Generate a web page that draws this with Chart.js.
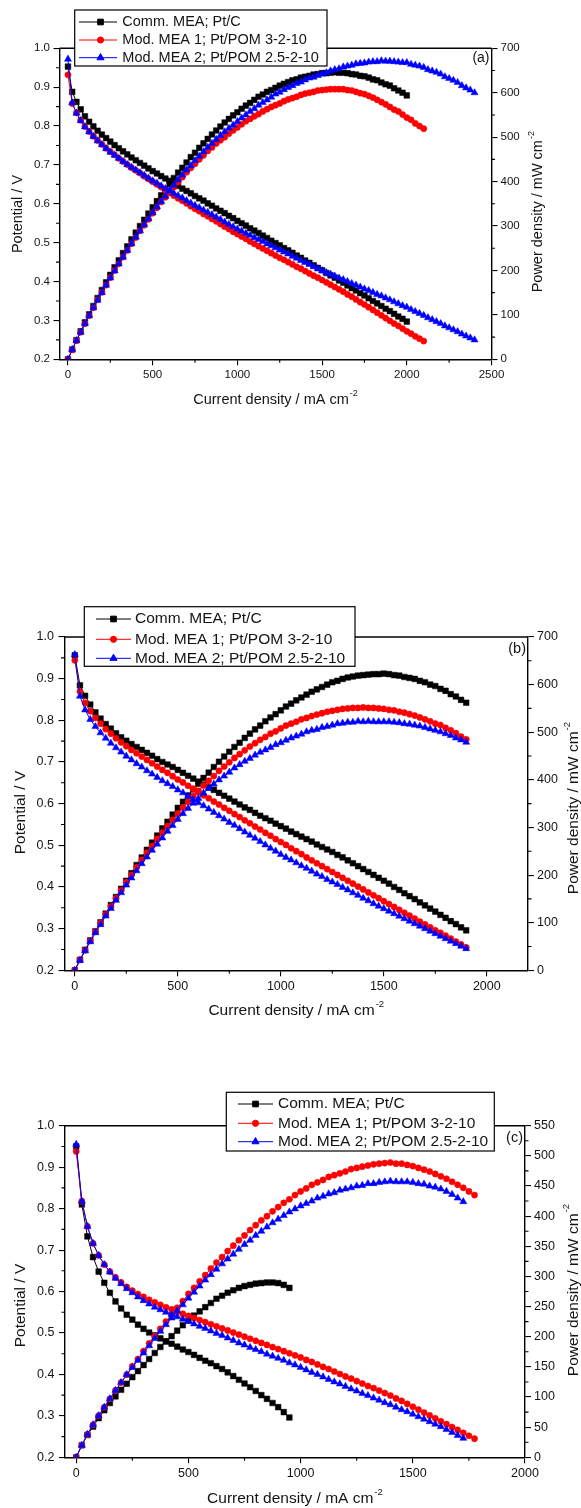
<!DOCTYPE html>
<html>
<head>
<meta charset="utf-8">
<title>Polarization and power density curves</title>
<script src="https://cdn.jsdelivr.net/npm/chart.js@4.4.1/dist/chart.umd.min.js"></script>
<style>
  html, body { margin: 0; padding: 0; background: #ffffff; }
  body { position: relative; width: 581px; height: 1508px; overflow: hidden; }
  canvas { position: absolute; left: 0; }
</style>
</head>
<body>
<canvas id="chartA" width="581" height="420" style="top:0px"></canvas>
<canvas id="chartB" width="581" height="450" style="top:580px"></canvas>
<canvas id="chartC" width="581" height="428" style="top:1080px"></canvas>
<script>
// ---- data -------------------------------------------------------------
// current density grid, mA cm-2 (shared by all three panels)
const current = [0,25,50,75,100,125,150,175,200,225,
  250,275,300,325,350,375,400,425,450,475,
  500,525,550,575,600,625,650,675,700,725,
  750,775,800,825,850,875,900,925,950,975,
  1000,1025,1050,1075,1100,1125,1150,1175,1200,1225,
  1250,1275,1300,1325,1350,1375,1400,1425,1450,1475,
  1500,1525,1550,1575,1600,1625,1650,1675,1700,1725,
  1750,1775,1800,1825,1850,1875,1900,1925,1950,1975,
  2000,2025,2050,2075,2100,2125,2150,2175,2200,2225,
  2250,2275,2300,2325,2350,2375,2400];

const seriesNames = ['Comm. MEA; Pt/C', 'Mod. MEA 1; Pt/POM 3-2-10', 'Mod. MEA 2; Pt/POM 2.5-2-10'];

// (a) cell potential, V
const potA_comm = [.953,.888,.862,.843,.825,.811,.799,.788,.778,.769,
  .760,.751,.743,.735,.727,.719,.712,.705,.698,.691,
  .684,.678,.671,.665,.659,.652,.646,.639,.633,.627,
  .620,.614,.608,.601,.595,.588,.582,.576,.569,.563,
  .556,.550,.544,.537,.531,.525,.518,.512,.505,.499,
  .493,.486,.480,.474,.467,.461,.454,.448,.442,.435,
  .429,.422,.416,.410,.403,.397,.390,.383,.377,.370,
  .364,.357,.350,.344,.337,.330,.324,.317,.310,.304,
  .297];
const potA_mod1 = [.932,.858,.834,.815,.799,.786,.774,.763,.753,.743,
  .734,.726,.717,.709,.701,.693,.686,.679,.671,.664,
  .657,.650,.643,.635,.628,.621,.614,.608,.601,.594,
  .587,.581,.574,.568,.561,.555,.548,.541,.535,.528,
  .522,.516,.510,.503,.497,.491,.485,.479,.473,.467,
  .461,.456,.450,.444,.438,.433,.427,.421,.415,.410,
  .404,.398,.392,.386,.380,.374,.367,.361,.354,.347,
  .341,.334,.327,.320,.313,.306,.299,.292,.286,.279,
  .272,.266,.259,.253,.247];
const potA_mod2 = [.972,.860,.833,.814,.798,.785,.773,.762,.752,.742,
  .733,.725,.717,.709,.701,.694,.687,.680,.673,.666,
  .659,.653,.646,.639,.633,.627,.621,.615,.608,.602,
  .596,.590,.584,.578,.572,.566,.560,.553,.547,.541,
  .535,.530,.524,.519,.513,.508,.503,.497,.492,.487,
  .481,.476,.471,.465,.460,.454,.449,.444,.438,.433,
  .428,.423,.419,.414,.409,.405,.400,.395,.391,.386,
  .381,.377,.372,.367,.363,.358,.353,.348,.343,.338,
  .334,.328,.323,.318,.313,.307,.302,.297,.292,.286,
  .281,.276,.271,.265,.260,.255,.250];
// (a) power density, mW cm-2
const powA_comm = [0,22,43,63,83,101,120,138,156,173,
  190,207,223,239,254,270,285,300,314,328,
  342,356,369,382,395,408,420,431,443,455,
  465,476,486,496,506,515,524,533,541,549,
  556,564,571,577,584,591,596,602,606,611,
  616,620,624,628,630,634,636,638,641,642,
  644,644,645,646,645,645,644,642,641,638,
  637,634,630,628,623,619,616,610,605,600,
  594];
const powA_mod1 = [0,21,42,61,80,98,116,134,151,167,
  184,200,215,230,245,260,274,289,302,315,
  329,341,354,365,377,388,399,410,421,431,
  440,450,459,469,477,486,493,500,508,515,
  522,529,536,541,547,552,558,563,568,572,
  576,581,585,588,591,595,598,600,602,605,
  606,607,608,608,608,608,606,605,602,599,
  597,593,589,584,579,574,568,562,558,551,
  544,539,531,525,519];
const powA_mod2 = [0,22,42,61,80,98,116,133,150,167,
  183,199,215,230,245,260,275,289,303,316,
  330,343,355,367,380,392,404,415,426,436,
  447,457,467,477,486,495,504,512,520,527,
  535,543,550,558,564,572,578,584,590,597,
  601,607,612,616,621,624,629,633,635,639,
  642,645,649,652,654,658,660,662,665,666,
  667,669,670,670,672,671,671,670,669,668,
  668,664,662,660,657,652,649,646,642,636,
  632,628,623,616,611,606,600];

// (b) cell potential, V
const potB_comm = [.956,.884,.859,.838,.819,.804,.791,.780,.769,.759,
  .751,.743,.736,.729,.722,.715,.707,.700,.694,.688,
  .681,.674,.667,.660,.653,.646,.639,.633,.626,.619,
  .612,.605,.598,.591,.585,.578,.571,.565,.559,.552,
  .546,.540,.533,.527,.521,.515,.509,.502,.496,.490,
  .484,.477,.471,.464,.457,.450,.443,.436,.429,.422,
  .415,.408,.400,.393,.385,.378,.371,.363,.356,.348,
  .341,.333,.326,.318,.311,.303,.296];
const potB_mod1 = [.944,.869,.842,.822,.806,.792,.779,.768,.757,.747,
  .738,.729,.721,.713,.705,.697,.689,.681,.674,.666,
  .658,.651,.643,.636,.628,.620,.613,.605,.598,.590,
  .583,.575,.568,.560,.553,.545,.538,.530,.523,.515,
  .508,.501,.493,.486,.479,.471,.464,.457,.450,.443,
  .436,.429,.422,.415,.408,.401,.394,.387,.380,.373,
  .366,.359,.352,.345,.338,.331,.324,.317,.310,.303,
  .296,.290,.283,.276,.269,.262,.255];
const potB_mod2 = [.958,.858,.825,.802,.785,.770,.757,.745,.734,.724,
  .714,.705,.696,.688,.679,.671,.663,.655,.648,.641,
  .633,.626,.618,.610,.602,.595,.587,.579,.571,.563,
  .555,.548,.540,.532,.524,.517,.509,.501,.493,.486,
  .478,.471,.465,.458,.451,.445,.438,.431,.425,.418,
  .412,.406,.399,.393,.386,.380,.373,.367,.360,.354,
  .348,.342,.336,.330,.324,.318,.312,.306,.300,.294,
  .288,.282,.276,.270,.264,.258,.252];
// (b) power density, mW cm-2
const powB_comm = [0,22,43,63,82,101,119,137,154,171,
  188,204,221,237,253,268,283,298,312,327,
  341,354,367,380,392,404,415,427,438,449,
  459,469,478,488,497,506,514,523,531,538,
  546,554,560,567,573,579,585,590,595,600,
  605,608,612,615,617,619,620,621,622,622,
  623,622,620,619,616,614,612,608,605,600,
  597,591,587,580,575,568,562];
const powB_mod1 = [0,22,42,62,81,99,117,134,151,168,
  185,200,216,232,247,261,276,289,303,316,
  329,342,354,366,377,388,398,408,419,428,
  437,446,454,462,470,477,484,490,497,502,
  508,514,518,522,527,530,534,537,540,543,
  545,547,549,550,551,551,552,551,551,550,
  549,547,546,543,541,538,535,531,527,523,
  518,515,509,504,498,491,485];
const powB_mod2 = [0,21,41,60,79,96,114,130,147,163,
  179,194,209,224,238,252,265,278,292,304,
  317,329,340,351,361,372,382,391,400,408,
  416,425,432,439,445,452,458,463,468,474,
  478,483,488,492,496,501,504,506,510,512,
  515,518,519,521,521,523,522,523,522,522,
  522,522,521,520,518,517,515,513,510,507,
  504,501,497,493,488,484,479];

// (c) cell potential, V
const potC_comm = [.950,.810,.733,.683,.648,.621,.597,.576,.559,.544,
  .532,.520,.510,.501,.494,.487,.480,.474,.467,.460,
  .454,.447,.440,.433,.427,.420,.413,.405,.396,.387,
  .378,.369,.360,.350,.341,.331,.321,.309,.296];
const potC_mod1 = [.938,.818,.757,.716,.687,.665,.648,.634,.622,.611,
  .602,.594,.587,.580,.574,.568,.562,.557,.551,.546,
  .541,.536,.531,.526,.521,.516,.511,.506,.501,.496,
  .491,.486,.481,.476,.471,.466,.461,.456,.451,.446,
  .441,.435,.430,.424,.418,.413,.407,.401,.395,.390,
  .384,.378,.372,.367,.361,.355,.349,.342,.336,.329,
  .322,.315,.308,.301,.294,.287,.280,.273,.266,.259,
  .252,.245];
const potC_mod2 = [.955,.818,.757,.716,.687,.665,.647,.632,.619,.607,
  .597,.587,.578,.570,.562,.556,.550,.544,.539,.533,
  .528,.522,.516,.511,.505,.499,.494,.488,.482,.476,
  .471,.465,.460,.455,.449,.444,.439,.434,.428,.423,
  .417,.411,.405,.400,.394,.388,.382,.377,.371,.365,
  .360,.354,.349,.343,.338,.332,.327,.321,.315,.310,
  .304,.298,.292,.286,.280,.274,.267,.260,.253,.246];
// (c) power density, mW cm-2
const powC_comm = [0,20,37,51,65,78,90,101,112,122,
  133,143,153,163,173,183,192,201,210,219,
  227,235,242,249,256,263,268,273,277,281,
  284,286,288,289,290,290,289,286,281];
const powC_mod1 = [0,20,38,54,69,83,97,111,124,137,
  151,163,176,189,201,213,225,237,248,259,
  271,281,292,302,313,323,332,342,351,360,
  368,377,385,393,400,408,415,422,428,435,
  441,446,452,456,460,465,468,471,474,478,
  480,482,484,486,487,488,489,487,487,485,
  483,480,477,474,470,466,462,457,452,447,
  441,435];
const powC_mod2 = [0,20,38,54,69,83,97,111,124,137,
  149,161,173,185,197,209,220,231,243,253,
  264,274,284,294,303,312,321,329,337,345,
  353,360,368,375,382,389,395,401,407,412,
  417,421,425,430,433,437,439,443,445,447,
  450,451,454,454,456,457,458,457,457,457,
  456,454,453,450,448,445,441,436,430,424];

// tick values
const potTicks = [0.2, 0.3, 0.4, 0.5, 0.6, 0.7, 0.8, 0.9, 1.0];
const xTicksA = [0, 500, 1000, 1500, 2000, 2500];
const xTicksBC = [0, 500, 1000, 1500, 2000];
const powTicksAB = [0, 100, 200, 300, 400, 500, 600, 700];
const powTicksC = [0, 50, 100, 150, 200, 250, 300, 350, 400, 450, 500, 550];

// ---- styling ------------------------------------------------------------
const FONT = "'Liberation Sans', Arimo, Arial, Helvetica, sans-serif";
const INK = '#141414';
const W = 581;
const MAJOR_TICK = 6;
const MINOR_TICK = 3.5;

const seriesStyle = [
  { color: '#000000', pointStyle: 'rect', radius: 4.0, order: 2 },
  { color: '#ff0000', pointStyle: 'circle', radius: 3.1, order: 1 },
  { color: '#0000ff', pointStyle: 'triangle', radius: 4.1, order: 0 }
];

Chart.defaults.font.family = FONT;

function dataset(label, data, axisId, st) {
  return {
    label, data, yAxisID: axisId,
    borderColor: st.color, backgroundColor: st.color,
    pointBackgroundColor: st.color, pointBorderColor: st.color,
    pointStyle: st.pointStyle, pointRadius: st.radius, pointHoverRadius: st.radius,
    pointBorderWidth: 0.5, borderWidth: 1, tension: 0, fill: false, order: st.order
  };
}

function makeDatasets(pots, pows) {
  const sets = [];
  pots.forEach((d, i) => sets.push(dataset(seriesNames[i] + ' – potential', d, 'yV', seriesStyle[i])));
  pows.forEach((d, i) => sets.push(dataset(seriesNames[i] + ' – power', d, 'yP', seriesStyle[i])));
  return sets;
}

const midpoints = t => t.slice(1).map((v, i) => (v + t[i]) / 2);

function drawTitle(ctx, main, sup, cx, cy, size, rot) {
  ctx.save();
  ctx.translate(cx, cy);
  ctx.rotate(rot);
  const mainFont = size + 'px ' + FONT;
  const supFont = (size * 0.62).toFixed(1) + 'px ' + FONT;
  ctx.font = mainFont;
  const w1 = ctx.measureText(main).width;
  ctx.font = supFont;
  const w2 = sup ? ctx.measureText(sup).width + 1 : 0;
  const x0 = -(w1 + w2) / 2;
  ctx.textAlign = 'left';
  ctx.textBaseline = 'middle';
  ctx.fillStyle = INK;
  ctx.font = mainFont;
  ctx.fillText(main, x0, 0);
  if (sup) {
    ctx.font = supFont;
    ctx.fillText(sup, x0 + w1 + 1, -size * 0.45);
  }
  ctx.restore();
}

function drawLegend(ctx, lg, size) {
  ctx.save();
  ctx.fillStyle = '#ffffff';
  ctx.fillRect(lg.x, lg.y, lg.w, lg.h);
  ctx.strokeStyle = '#000000';
  ctx.lineWidth = 1.2;
  ctx.strokeRect(lg.x, lg.y, lg.w, lg.h);
  ctx.font = size + 'px ' + FONT;
  ctx.textAlign = 'left';
  ctx.textBaseline = 'middle';
  seriesNames.forEach((name, i) => {
    const st = seriesStyle[i];
    const y = lg.rows[i];
    ctx.strokeStyle = st.color;
    ctx.fillStyle = st.color;
    ctx.lineWidth = 1;
    ctx.beginPath();
    ctx.moveTo(lg.sx0, y);
    ctx.lineTo(lg.sx1, y);
    ctx.stroke();
    Chart.helpers.drawPoint(ctx, { pointStyle: st.pointStyle, radius: st.radius, rotation: 0, borderWidth: 0.5 }, lg.mx, y);
    ctx.fillStyle = INK;
    ctx.fillText(name, lg.tx, y);
  });
  ctx.restore();
}

function panelDecor(p) {
  return {
    id: 'panelDecor',
    afterDraw(chart) {
      const ctx = chart.ctx;
      const a = chart.chartArea;
      const sx = chart.scales.x, sv = chart.scales.yV, sp = chart.scales.yP;
      ctx.save();
      // top edge of the frame
      ctx.strokeStyle = '#000000';
      ctx.lineWidth = 1.4;
      ctx.beginPath();
      ctx.moveTo(a.left, a.top);
      ctx.lineTo(a.right, a.top);
      ctx.stroke();
      // minor ticks half-way between the labelled ones
      ctx.lineWidth = 1.1;
      ctx.beginPath();
      midpoints(p.xTicks).filter(v => v < sx.max).forEach(v => {
        const x = sx.getPixelForValue(v);
        ctx.moveTo(x, a.bottom); ctx.lineTo(x, a.bottom + MINOR_TICK);
      });
      midpoints(potTicks).forEach(v => {
        const y = sv.getPixelForValue(v);
        ctx.moveTo(a.left, y); ctx.lineTo(a.left - MINOR_TICK, y);
      });
      midpoints(p.powTicks).forEach(v => {
        const y = sp.getPixelForValue(v);
        ctx.moveTo(a.right, y); ctx.lineTo(a.right + MINOR_TICK, y);
      });
      ctx.stroke();
      // axis titles
      drawTitle(ctx, 'Current density / mA cm', '-2', p.xTitle.x, p.xTitle.y, p.titleSize, 0);
      drawTitle(ctx, 'Potential / V', '', p.yTitle.x, p.yTitle.y, p.titleSize, -Math.PI / 2);
      drawTitle(ctx, 'Power density / mW cm', '-2', p.pTitle.x, p.pTitle.y, p.titleSize, -Math.PI / 2);
      // panel letter
      ctx.fillStyle = INK;
      ctx.font = p.tagSize + 'px ' + FONT;
      ctx.textAlign = 'right';
      ctx.textBaseline = 'middle';
      ctx.fillText(p.tag.text, p.tag.x, p.tag.y);
      ctx.restore();
      drawLegend(ctx, p.legend, p.legendSize);
    }
  };
}

function gridOpts() {
  return { display: true, drawOnChartArea: false, drawTicks: true, tickLength: MAJOR_TICK,
           tickWidth: 1.1, tickColor: '#000000', color: '#000000', lineWidth: 1.1 };
}
function borderOpts() {
  return { display: true, color: '#000000', width: 1.4 };
}

function buildPanel(p) {
  const tickFont = { family: FONT, size: p.tickSize };
  return new Chart(document.getElementById(p.canvas), {
    type: 'line',
    data: { labels: current, datasets: makeDatasets(p.pot, p.pow) },
    options: {
      responsive: false,
      maintainAspectRatio: false,
      animation: false,
      devicePixelRatio: 1,
      events: [],
      layout: { padding: { top: p.area.top, right: 0, bottom: 0, left: 0 } },
      plugins: { legend: { display: false }, tooltip: { enabled: false } },
      scales: {
        x: {
          type: 'linear', position: 'bottom', min: p.xMin, max: p.xMax,
          grid: gridOpts(), border: borderOpts(),
          ticks: { font: tickFont, color: INK, padding: p.padX, autoSkip: false,
                   maxRotation: 0, minRotation: 0, callback: v => String(v) },
          afterBuildTicks: s => { s.ticks = p.xTicks.map(value => ({ value })); },
          afterFit: s => { s.height = p.H - p.area.bottom; }
        },
        yV: {
          type: 'linear', position: 'left',
          min: potTicks[0], max: potTicks[potTicks.length - 1],
          grid: gridOpts(), border: borderOpts(),
          ticks: { font: tickFont, color: INK, padding: p.padL, autoSkip: false,
                   callback: v => Number(v).toFixed(1) },
          afterBuildTicks: s => { s.ticks = potTicks.map(value => ({ value })); },
          afterFit: s => { s.width = p.area.left; }
        },
        yP: {
          type: 'linear', position: 'right',
          min: p.powTicks[0], max: p.powTicks[p.powTicks.length - 1],
          grid: gridOpts(), border: borderOpts(),
          ticks: { font: tickFont, color: INK, padding: p.padR, autoSkip: false,
                   callback: v => String(v) },
          afterBuildTicks: s => { s.ticks = p.powTicks.map(value => ({ value })); },
          afterFit: s => { s.width = W - p.area.right; }
        }
      }
    },
    plugins: [panelDecor(p)]
  });
}

// ---- panels -------------------------------------------------------------
buildPanel({
  canvas: 'chartA', H: 420,
  area: { left: 59.5, right: 491.5, top: 48.3, bottom: 359.3 },
  xMin: -50, xMax: 2500, xTicks: xTicksA, powTicks: powTicksAB,
  pot: [potA_comm, potA_mod1, potA_mod2], pow: [powA_comm, powA_mod1, powA_mod2],
  tickSize: 11.5, titleSize: 14.5, legendSize: 14.5, tagSize: 14,
  padX: 3, padL: 3.5, padR: 3,
  legend: { x: 74.7, y: 10, w: 252.3, h: 56, rows: [22, 40, 57.7], sx0: 79, sx1: 117, mx: 100.5, tx: 122.3 },
  tag: { text: '(a)', x: 489.5, y: 58.5 },
  xTitle: { x: 275.5, y: 400 }, yTitle: { x: 18, y: 214 }, pTitle: { x: 538, y: 211.7 }
});

buildPanel({
  canvas: 'chartB', H: 450,
  area: { left: 64.5, right: 528, top: 57, bottom: 390.3 },
  xMin: -50, xMax: 2200, xTicks: xTicksBC, powTicks: powTicksAB,
  pot: [potB_comm, potB_mod1, potB_mod2], pow: [powB_comm, powB_mod1, powB_mod2],
  tickSize: 12.5, titleSize: 15.5, legendSize: 15.5, tagSize: 14.5,
  padX: 3, padL: 4.5, padR: 3,
  legend: { x: 84.3, y: 26.7, w: 270.7, h: 59.6, rows: [39, 59.3, 78.3], sx0: 96, sx1: 131, mx: 113.5, tx: 135 },
  tag: { text: '(b)', x: 526, y: 68.5 },
  xTitle: { x: 296.3, y: 431 }, yTitle: { x: 20.5, y: 232.5 }, pTitle: { x: 574, y: 228 }
});

buildPanel({
  canvas: 'chartC', H: 428,
  area: { left: 65, right: 525, top: 45.7, bottom: 377.3 },
  xMin: -50, xMax: 2000, xTicks: xTicksBC, powTicks: powTicksC,
  pot: [potC_comm, potC_mod1, potC_mod2], pow: [powC_comm, powC_mod1, powC_mod2],
  tickSize: 12.5, titleSize: 15.5, legendSize: 15.5, tagSize: 14.5,
  padX: 3, padL: 4.5, padR: 3,
  legend: { x: 226.3, y: 12.3, w: 268, h: 58.7, rows: [24, 43.3, 61.7], sx0: 238, sx1: 273, mx: 255.5, tx: 278 },
  tag: { text: '(c)', x: 523, y: 57.8 },
  xTitle: { x: 295, y: 419 }, yTitle: { x: 20.5, y: 225.5 }, pTitle: { x: 573.5, y: 210 }
});
</script>
</body>
</html>
